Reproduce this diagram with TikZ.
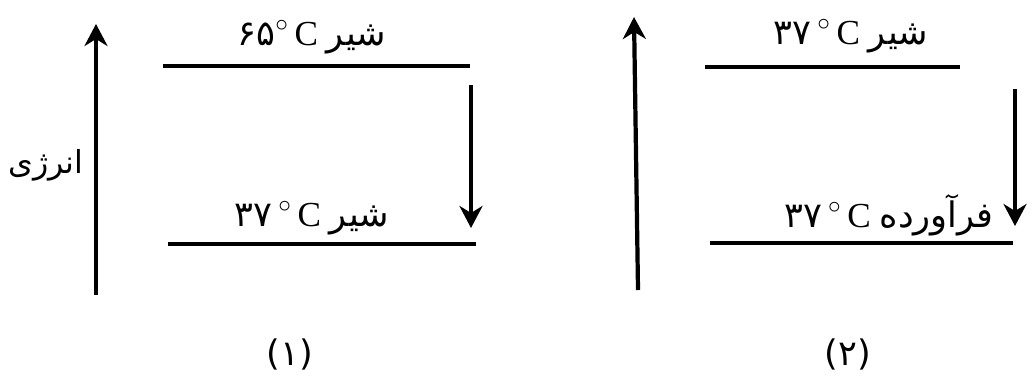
\documentclass[tikz,border=0pt]{standalone}
\usepackage{fontspec}
\setmainfont{Liberation Serif}
\newfontfamily\persianfont[Script=Arabic]{DejaVu Sans}
\TeXXeTstate=1
\usetikzlibrary{arrows.meta}
\newcommand{\fatext}[1]{{\persianfont\beginR #1\endR}}
\newcommand{\fadigits}[1]{{\persianfont #1}}

\begin{document}
\begin{tikzpicture}[
  x=0.02cm,y=-0.02cm,
  level/.style={line width=2.8pt},
  arr/.style={line width=2.4pt,-{Stealth[length=4.4mm,width=4.6mm,inset=1.4mm]}},
  lbl/.style={font=\fontsize{20}{23}\selectfont,inner sep=0pt,anchor=base}
]
\useasboundingbox (0,0) rectangle (1033,379);
% energy axes
\coordinate (axisAlo) at (96,295);
\coordinate (axisAhi) at (96,24);
\coordinate (axisBlo) at (638,290);
\coordinate (axisBhi) at (634,17);
\draw[arr] (axisAlo) -- (axisAhi);
\draw[arr] (axisBlo) -- (axisBhi);
\node[lbl,anchor=center,font=\fontsize{18}{22}\selectfont] (energy) at (46,165) {\fatext{انرژی}};
% diagram (1)
\coordinate (hotL) at (163,66);
\coordinate (hotR) at (470,66);
\coordinate (warmL) at (168,244);
\coordinate (warmR) at (476,244);
\draw[level] (hotL) -- (hotR);
\draw[level] (warmL) -- (warmR);
\coordinate (dropAtop) at (471,85);
\coordinate (dropAbot) at (471,228);
\draw[arr] (dropAtop) -- (dropAbot);
\node[lbl] (milkhot) at (312,45) {\fadigits{۶۵}$^{\circ}$\,C \fatext{شیر}};
\node[lbl] (milkwarm) at (312,226) {\fadigits{۳۷}\,$^{\circ}$\,C \fatext{شیر}};
\node[lbl] (capA) at (290,365) {\fadigits{(۱)}};
% diagram (2)
\coordinate (milkL) at (705,67);
\coordinate (milkR) at (960,67);
\coordinate (prodL) at (710,243);
\coordinate (prodR) at (1013,243);
\draw[level] (milkL) -- (milkR);
\draw[level] (prodL) -- (prodR);
\coordinate (dropBtop) at (1015,89);
\coordinate (dropBbot) at (1015,226);
\draw[arr] (dropBtop) -- (dropBbot);
\node[lbl] (milkbody) at (851,44) {\fadigits{۳۷}\,$^{\circ}$\,C \fatext{شیر}};
\node[lbl] (product) at (889,227) {\fadigits{۳۷}\,$^{\circ}$\,C \fatext{فرآورده}};
\node[lbl] (capB) at (848,365) {\fadigits{(۲)}};
\end{tikzpicture}
\end{document}
